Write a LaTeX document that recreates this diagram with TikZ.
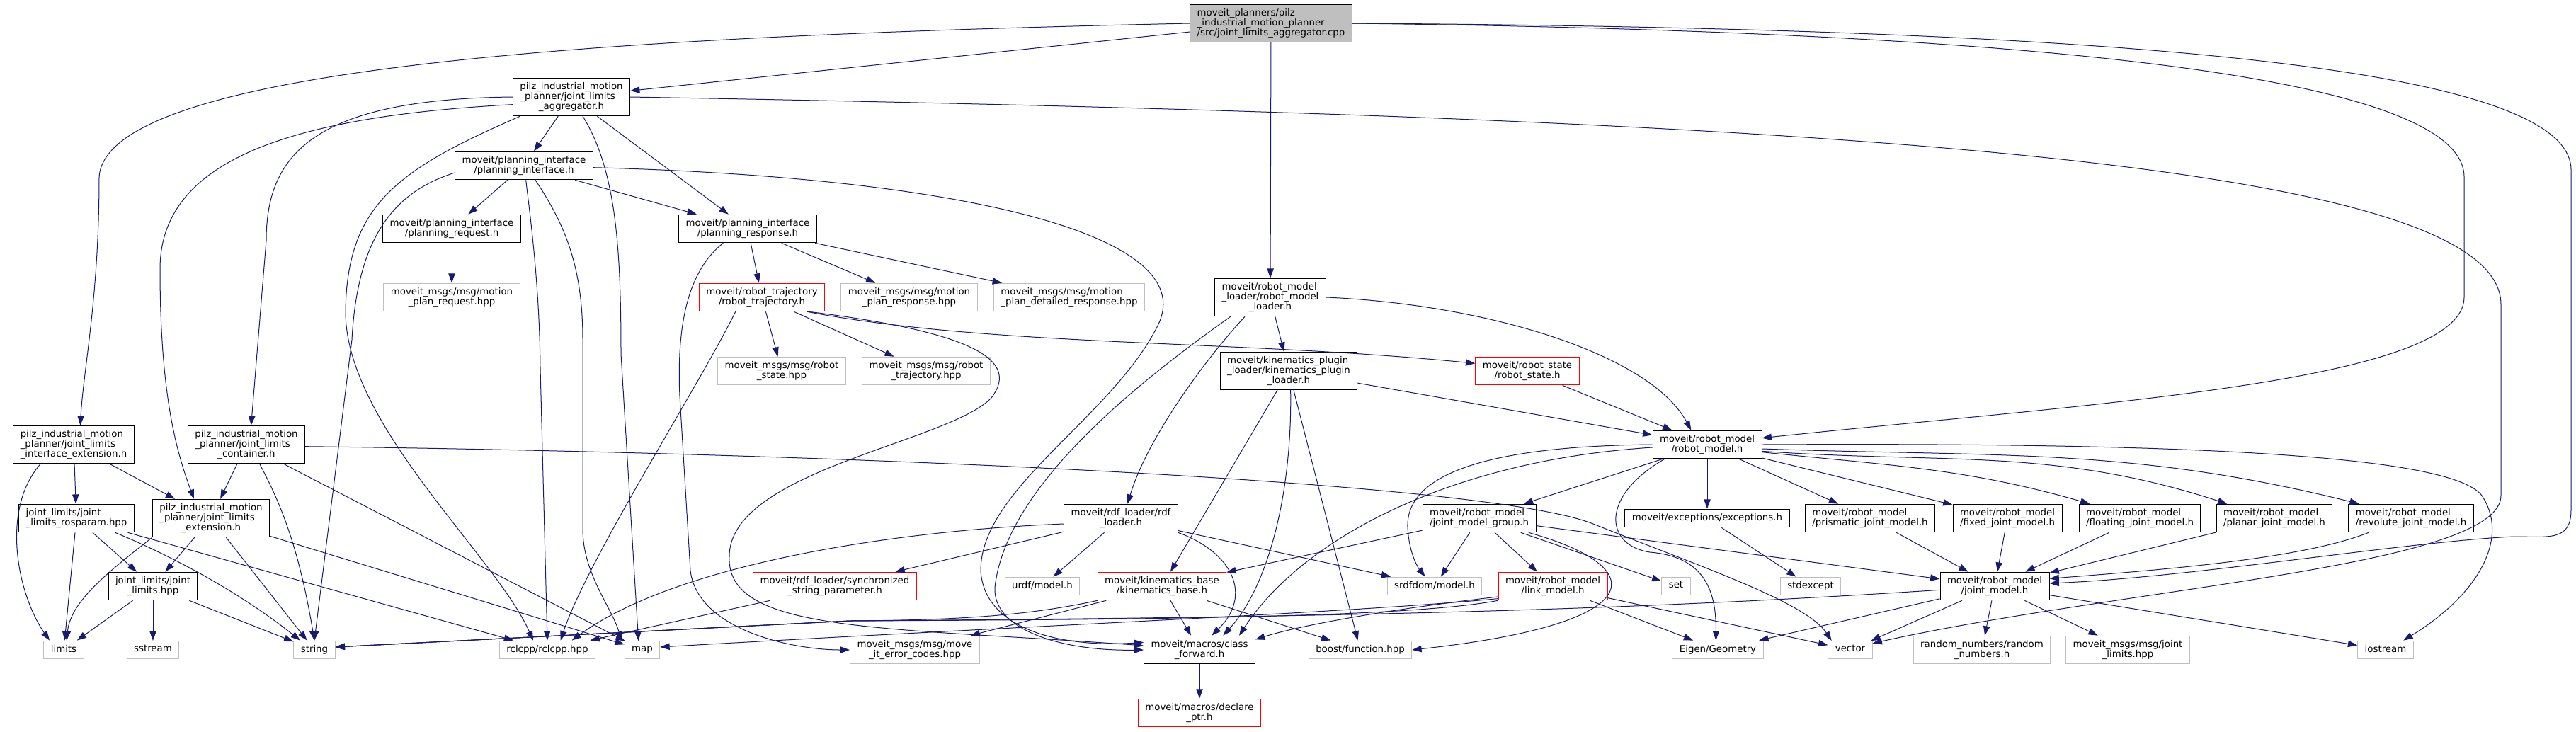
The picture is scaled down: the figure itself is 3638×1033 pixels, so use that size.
\documentclass[tikz,border=0pt]{standalone}
\usepackage{fontspec}
\setmainfont{DejaVu Sans}
\usetikzlibrary{arrows.meta}
\definecolor{midnight}{HTML}{191970}
\definecolor{grey75}{HTML}{BFBFBF}
\renewcommand{\arraystretch}{0.875}
% label: upper lines left, last line centred
\newcommand{\twol}[2]{\begin{tabular}{@{}l@{}}#1\\\multicolumn{1}{@{}c@{}}{#2}\end{tabular}}
\newcommand{\onel}[1]{\begin{tabular}{@{}c@{}}#1\end{tabular}}
\tikzset{
  hdr/.style={draw=black, fill=white, line width=0.75pt, inner xsep=7.5pt, inner ysep=4.5pt, font=\fontsize{10}{10.5}\selectfont},
  syshdr/.style={hdr, draw=grey75},
  redhdr/.style={hdr, draw=red},
  roothdr/.style={hdr, fill=grey75},
  incl/.style={draw=midnight, line width=0.75pt, -{Triangle[length=10pt,width=7pt]}},
}
\begin{document}
\begin{tikzpicture}[x=0.75pt, y=-0.75pt]
  \useasboundingbox (0,0) rectangle (3638,1033);
  % Files
  \node[roothdr] (main) at (1795,33) {\twol{moveit\_planners/pilz\\\_industrial\_motion\_planner}{/src/joint\_limits\_aggregator.cpp}};
  \node[hdr] (agg) at (807,137) {\twol{pilz\_industrial\_motion\\\_planner/joint\_limits}{\_aggregator.h}};
  \node[hdr] (pi) at (740,234) {\twol{moveit/planning\_interface}{/planning\_interface.h}};
  \node[hdr] (preq) at (638,323) {\twol{moveit/planning\_interface}{/planning\_request.h}};
  \node[hdr] (presp) at (1056,323) {\twol{moveit/planning\_interface}{/planning\_response.h}};
  \node[syshdr] (mpreq) at (638,420) {\twol{moveit\_msgs/msg/motion}{\_plan\_request.hpp}};
  \node[redhdr] (rtraj) at (1076,420) {\twol{moveit/robot\_trajectory}{/robot\_trajectory.h}};
  \node[syshdr] (mpresp) at (1284,420) {\twol{moveit\_msgs/msg/motion}{\_plan\_response.hpp}};
  \node[syshdr] (mpdet) at (1510,420) {\twol{moveit\_msgs/msg/motion}{\_plan\_detailed\_response.hpp}};
  \node[hdr] (rml) at (1794,420) {\twol{moveit/robot\_model\\\_loader/robot\_model}{\_loader.h}};
  \node[syshdr] (rsthpp) at (1104,524) {\twol{moveit\_msgs/msg/robot}{\_state.hpp}};
  \node[syshdr] (rtrhpp) at (1308,524) {\twol{moveit\_msgs/msg/robot}{\_trajectory.hpp}};
  \node[hdr] (kpl) at (1820,524) {\twol{moveit/kinematics\_plugin\\\_loader/kinematics\_plugin}{\_loader.h}};
  \node[redhdr] (rstate) at (2157,524) {\twol{moveit/robot\_state}{/robot\_state.h}};
  \node[hdr] (ifext) at (104,628) {\twol{pilz\_industrial\_motion\\\_planner/joint\_limits}{\_interface\_extension.h}};
  \node[hdr] (cont) at (348,628) {\twol{pilz\_industrial\_motion\\\_planner/joint\_limits}{\_container.h}};
  \node[hdr] (rmodel) at (2411,628) {\twol{moveit/robot\_model}{/robot\_model.h}};
  \node[hdr] (rosparam) at (108,732) {\twol{joint\_limits/joint}{\_limits\_rosparam.hpp}};
  \node[hdr] (jlext) at (298,732) {\twol{pilz\_industrial\_motion\\\_planner/joint\_limits}{\_extension.h}};
  \node[hdr] (rdf) at (1583,732) {\twol{moveit/rdf\_loader/rdf}{\_loader.h}};
  \node[hdr] (jmg) at (2089,732) {\twol{moveit/robot\_model}{/joint\_model\_group.h}};
  \node[hdr] (exc) at (2411,732) {\onel{moveit/exceptions/exceptions.h}};
  \node[hdr] (pris) at (2641,732) {\twol{moveit/robot\_model}{/prismatic\_joint\_model.h}};
  \node[hdr] (fixed) at (2835,732) {\twol{moveit/robot\_model}{/fixed\_joint\_model.h}};
  \node[hdr] (floating) at (3022,732) {\twol{moveit/robot\_model}{/floating\_joint\_model.h}};
  \node[hdr] (planar) at (3212,732) {\twol{moveit/robot\_model}{/planar\_joint\_model.h}};
  \node[hdr] (revol) at (3405,732) {\twol{moveit/robot\_model}{/revolute\_joint\_model.h}};
  \node[hdr] (jlhpp) at (216,828) {\twol{joint\_limits/joint}{\_limits.hpp}};
  \node[redhdr] (sync) at (1179,828) {\twol{moveit/rdf\_loader/synchronized}{\_string\_parameter.h}};
  \node[syshdr] (urdf) at (1472,828) {\onel{urdf/model.h}};
  \node[redhdr] (kb) at (1641,828) {\twol{moveit/kinematics\_base}{/kinematics\_base.h}};
  \node[syshdr] (srdf) at (2026,828) {\onel{srdfdom/model.h}};
  \node[redhdr] (link) at (2193,828) {\twol{moveit/robot\_model}{/link\_model.h}};
  \node[syshdr] (set) at (2367,828) {\onel{set}};
  \node[syshdr] (stdexc) at (2557,828) {\onel{stdexcept}};
  \node[hdr] (jmodel) at (2817,828) {\twol{moveit/robot\_model}{/joint\_model.h}};
  \node[syshdr] (limits) at (90,918) {\onel{limits}};
  \node[syshdr] (sstream) at (216,918) {\onel{sstream}};
  \node[syshdr] (string) at (444,918) {\onel{string}};
  \node[syshdr] (rclcpp) at (773,918) {\onel{rclcpp/rclcpp.hpp}};
  \node[syshdr] (map) at (907,918) {\onel{map}};
  \node[syshdr] (errc) at (1292,918) {\twol{moveit\_msgs/msg/move}{\_it\_error\_codes.hpp}};
  \node[hdr] (cfwd) at (1694,918) {\twol{moveit/macros/class}{\_forward.h}};
  \node[syshdr] (boost) at (1921,918) {\onel{boost/function.hpp}};
  \node[syshdr] (eigen) at (2426,918) {\onel{Eigen/Geometry}};
  \node[syshdr] (vector) at (2613,918) {\onel{vector}};
  \node[syshdr] (random) at (2799,918) {\twol{random\_numbers/random}{\_numbers.h}};
  \node[syshdr] (jlim) at (3005,918) {\twol{moveit\_msgs/msg/joint}{\_limits.hpp}};
  \node[syshdr] (iostream) at (3369,918) {\onel{iostream}};
  \node[redhdr] (dptr) at (1694,1007) {\twol{moveit/macros/declare}{\_ptr.h}};

  % Source file
  \draw[incl] (main) -- (agg);
  \draw[incl] (main.west) .. controls (900,50) and (150,90) .. (140,250) .. controls (140,420) and (118,520) .. ([xshift=7pt]ifext.north);
  \draw[incl] (main) -- (rml);
  \draw[incl] (main.east) .. controls (2900,45) and (3480,110) .. (3480,250) -- (3480,420) .. controls (3480,540) and (2950,570) .. ([yshift=7pt]rmodel.east);
  \draw[incl] (main.east) .. controls (3050,40) and (3631,100) .. (3631,240) -- (3631,720) .. controls (3631,765) and (3600,758) .. (3550,758) .. controls (3400,765) and (3100,815) .. ([yshift=3pt]jmodel.east);

  % Aggregator
  \draw[incl] (agg) -- (pi);
  \draw[incl] (agg) -- (presp);
  \draw[incl] (agg.west) .. controls (440,140) and (376,220) .. (376,340) -- ([xshift=5pt]cont.north);
  \draw[incl] ([yshift=-8pt]agg.west) .. controls (400,165) and (226,230) .. (226,380) .. controls (226,560) and (250,640) .. ([xshift=-18pt]jlext.north);
  \draw[incl] ([xshift=8pt]agg.south west) .. controls (560,240) and (490,290) .. (488,440) .. controls (488,600) and (700,785) .. ([xshift=-15pt]rclcpp.north);
  \draw[incl] ([xshift=12pt]agg.south) .. controls (870,240) and (877,350) .. (877,500) -- ([xshift=-4pt]map.north);
  \draw[incl] (agg.east) .. controls (2500,165) and (3532,220) .. (3532,430) -- (3532,700) .. controls (3532,800) and (3000,830) .. ([yshift=7pt]vector.east);

  % Planning interface
  \draw[incl] (pi) -- (preq);
  \draw[incl] (pi) -- (presp);
  \draw[incl] ([yshift=-7.5pt]pi.west) .. controls (560,270) and (505,330) .. (497,480) -- (string.north);
  \draw[incl] ([xshift=2pt]pi.south) .. controls (748,300) and (762,400) .. (763,520) -- (rclcpp.north);
  \draw[incl] ([xshift=12pt]pi.south) .. controls (800,320) and (823,380) .. (823,480) -- (823,748) .. controls (823,810) and (865,860) .. ([xshift=-22pt]map.north);
  \draw[incl] ([yshift=-2pt]pi.east) .. controls (1350,250) and (1700,330) .. (1635,460) .. controls (1570,590) and (1385,690) .. (1385,806) .. controls (1390,890) and (1500,915) .. ([yshift=8pt]cfwd.west);
  \draw[incl] (preq) -- (mpreq);

  % Planning response
  \draw[incl] (presp) -- (rtraj);
  \draw[incl] (presp) -- (mpresp);
  \draw[incl] (presp) -- (mpdet);
  \draw[incl] ([xshift=-26pt]presp.south) .. controls (975,380) and (955,450) .. (960,560) -- (975,806) .. controls (985,890) and (1120,918) .. (errc.west);

  % Robot trajectory
  \draw[incl] (rtraj) -- (rsthpp);
  \draw[incl] (rtraj) -- (rtrhpp);
  \draw[incl] ([xshift=-28pt]rtraj.south) .. controls (990,540) and (830,790) .. ([xshift=14pt]rclcpp.north);
  \draw[incl] ([xshift=-19pt]rtraj.south east) .. controls (1400,490) and (1750,480) .. ([yshift=8pt]rstate.west);
  \draw[incl] ([xshift=-17pt]rtraj.south east) .. controls (1380,470) and (1440,510) .. (1400,562) .. controls (1340,625) and (1030,665) .. (1030,786) .. controls (1025,895) and (1250,885) .. ([yshift=4.5pt]cfwd.west);

  % Robot model loader
  \draw[incl] (rml) -- (kpl);
  \draw[incl] ([xshift=-27pt]rml.south) .. controls (1700,510) and (1620,620) .. ([xshift=7pt]rdf.north);
  \draw[incl] (rml.east) .. controls (2100,430) and (2330,500) .. ([xshift=-17pt]rmodel.north);
  \draw[incl] ([xshift=17pt]rml.south west) .. controls (1600,545) and (1420,690) .. (1405,830) .. controls (1402,890) and (1500,920) .. (cfwd.west);

  % Kinematics plugin loader
  \draw[incl] (kpl) -- (kb);
  \draw[incl] (kpl) -- (boost);
  \draw[incl] (kpl) -- (rmodel);
  \draw[incl] ([xshift=2pt]kpl.south) .. controls (1825,700) and (1790,830) .. ([xshift=25pt]cfwd.north);
  \draw[incl] (rstate) -- (rmodel);

  % RDF loader
  \draw[incl] (rdf) -- (sync);
  \draw[incl] (rdf) -- (urdf);
  \draw[incl] (rdf) -- (srdf);
  \draw[incl] ([yshift=-6pt]rdf.west) .. controls (1250,750) and (950,800) .. ([xshift=26pt]rclcpp.north);
  \draw[incl] (rdf.south east) .. controls (1740,780) and (1770,840) .. ([xshift=13pt]cfwd.north);
  \draw[incl] (sync) -- (rclcpp);

  % Kinematics base
  \draw[incl] (kb) -- (cfwd);
  \draw[incl] (kb) -- (boost);
  \draw[incl] (kb) -- (errc);
  \draw[incl] (kb.south west) .. controls (1450,870) and (1350,876) .. (1200,877) -- ([yshift=3pt]string.east);
  \draw[incl] (cfwd) -- (dptr);

  % Robot model
  \draw[incl] (rmodel) -- (jmg);
  \draw[incl] (rmodel) -- (exc);
  \draw[incl] (rmodel) -- (pris);
  \draw[incl] (rmodel) -- (fixed);
  \draw[incl] ([yshift=-8pt]rmodel.east) to[out=-6,in=164] ([xshift=-53pt]floating.north);
  \draw[incl] ([yshift=-7pt]rmodel.east) to[out=-4,in=162] ([xshift=-50pt]planar.north);
  \draw[incl] ([yshift=-4.5pt]rmodel.east) to[out=-2,in=166] ([xshift=-55pt]revol.north);
  \draw[incl] (rmodel.east) .. controls (3050,625) and (3460,640) .. (3505,700) .. controls (3545,760) and (3500,840) .. ([xshift=19pt]iostream.north);
  \draw[incl] (rmodel.west) .. controls (2100,630) and (1985,670) .. (1988,745) .. controls (1990,785) and (2005,805) .. ([xshift=-10pt]srdf.north);
  \draw[incl] ([yshift=-3pt]rmodel.west) .. controls (2050,650) and (1840,760) .. ([xshift=42pt]cfwd.north);
  \draw[incl] ([xshift=-45pt]rmodel.south) .. controls (2260,700) and (2265,770) .. (2330,780) .. controls (2400,786) and (2424,825) .. ([xshift=-2pt]eigen.north);
  \draw[incl] (exc) -- (stdexc);

  % Joint model group
  \draw[incl] (jmg) -- (kb);
  \draw[incl] (jmg) -- (srdf);
  \draw[incl] (jmg) -- (link);
  \draw[incl] (jmg) -- (set);
  \draw[incl] (jmg) -- (jmodel);
  \draw[incl] ([xshift=-8pt]jmg.south east) .. controls (2330,800) and (2340,880) .. (boost.east);

  % Link model
  \draw[incl] (link) -- (eigen);
  \draw[incl] (link) -- (vector);
  \draw[incl] (link.south west) .. controls (2000,870) and (1700,875) .. (1200,877) -- ([yshift=3pt]string.east);
  \draw[incl] ([yshift=2pt]link.south west) .. controls (1900,866) and (1450,884) .. ([yshift=3pt]map.east);
  \draw[incl] ([yshift=4pt]link.south west) .. controls (1950,862) and (1830,885) .. ([yshift=11pt]cfwd.east);

  % Joint types
  \draw[incl] (pris) -- (jmodel);
  \draw[incl] (fixed) -- (jmodel);
  \draw[incl] (floating) -- (jmodel);
  \draw[incl] (planar) -- (jmodel);
  \draw[incl] ([xshift=-45pt]revol.south) .. controls (3250,790) and (3050,805) .. ([yshift=8pt]jmodel.east);

  % Joint model
  \draw[incl] (jmodel) -- (eigen);
  \draw[incl] (jmodel) -- (vector);
  \draw[incl] (jmodel) -- (random);
  \draw[incl] (jmodel) -- (jlim);
  \draw[incl] (jmodel) -- (iostream);
  \draw[incl] ([yshift=-4pt]jmodel.west) .. controls (2300,862) and (1900,872) .. (1200,877) -- ([yshift=3pt]string.east);

  % Joint limits
  \draw[incl] (ifext) -- (rosparam);
  \draw[incl] (ifext) -- (jlext);
  \draw[incl] ([xshift=-35pt]ifext.south) .. controls (0,720) and (25,840) .. ([xshift=-15pt]limits.north);
  \draw[incl] (cont) -- (jlext);
  \draw[incl] ([xshift=14pt]cont.south) .. controls (390,700) and (420,760) .. (string.north);
  \draw[incl] (cont) -- (map);
  \draw[incl] ([yshift=-2pt]cont.east) .. controls (1200,640) and (2100,680) .. (2250,740) .. controls (2400,800) and (2550,850) .. ([xshift=4pt]vector.north west);
  \draw[incl] (rosparam) -- (limits);
  \draw[incl] (rosparam) -- (jlhpp);
  \draw[incl] ([xshift=41pt]rosparam.south) .. controls (230,780) and (330,830) .. ([xshift=-15pt]string.north);
  \draw[incl] (rosparam) -- (rclcpp);
  \draw[incl] (jlext.south west) .. controls (150,810) and (100,850) .. ([xshift=3pt]limits.north);
  \draw[incl] (jlext) -- (jlhpp);
  \draw[incl] (jlext) -- (string);
  \draw[incl] (jlext) -- (map);
  \draw[incl] (jlhpp) -- (limits);
  \draw[incl] (jlhpp) -- (sstream);
  \draw[incl] (jlhpp) -- (string);
\end{tikzpicture}
\end{document}
